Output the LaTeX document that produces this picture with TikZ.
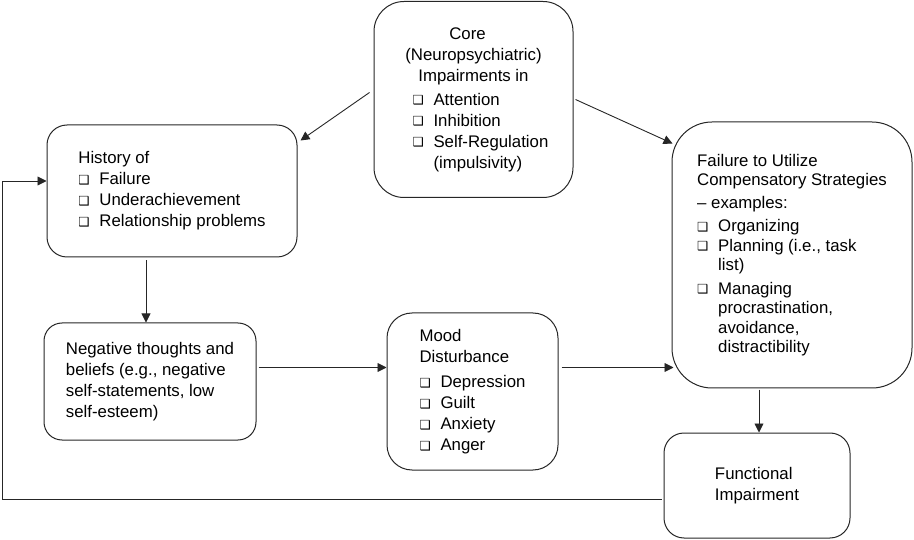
\documentclass[tikz,border=0pt]{standalone}
\usepackage{fontspec}
\setmainfont{Liberation Sans}
\newfontfamily\symfont{DejaVu Sans}
\usetikzlibrary{arrows.meta}
\newcommand\sqbul{\makebox[21pt][l]{\raisebox{0.3pt}{\fontsize{12.5}{12.5}\selectfont\symfont ❑}}}
\newcommand\ind{\hspace*{21pt}}
\begin{document}
\begin{tikzpicture}[x=1pt,y=-1pt,
  font=\fontsize{16.8}{21}\selectfont,
  box/.style={draw=black!85, line width=1pt, inner sep=0pt, align=left},
  arr/.style={draw=black!85, line width=0.9pt, -{Triangle[length=9pt,width=9pt]}}]
\useasboundingbox (0,0) rectangle (914,540);

\node[box, rounded corners=30pt, minimum width=199pt, minimum height=196pt, align=center] (core) at (473.5,99.5)
  {Core\hspace*{12pt}\\(Neuropsychiatric)\hspace*{12pt}\\Impairments in\hspace*{12pt}\\[3pt]%
   \parbox[t]{122pt}{\mbox{\sqbul Attention}\\\mbox{\sqbul Inhibition}\\\mbox{\sqbul Self-Regulation}\\\mbox{\ind(impulsivity)}}};

\node[box, rounded corners=20pt, minimum width=250pt, minimum height=132pt] (hist) at (172,191)
  {History of\\\sqbul Failure\\\sqbul Underachievement\\\sqbul Relationship problems};

\node[box, rounded corners=40pt, minimum width=240pt, minimum height=266pt,
      font=\fontsize{16.8}{19.5}\selectfont] (fail) at (792,255)
  {Failure to Utilize\\Compensatory Strategies\hspace*{9pt}\\[3pt]– examples:\\[4pt]%
   \sqbul Organizing\\\sqbul Planning (i.e., task\\\ind list)\\[4pt]%
   \sqbul Managing\\\ind procrastination,\\\ind avoidance,\\\ind distractibility};

\node[box, rounded corners=18pt, minimum width=212pt, minimum height=117pt] (neg) at (150,381.5)
  {Negative thoughts and\\beliefs (e.g., negative\\self-statements, low\\self-esteem)};

\node[box, rounded corners=25pt, minimum width=171pt, minimum height=157pt] (mood) at (472.5,391.5)
  {Mood\\Disturbance\\[4pt]\sqbul Depression\\\sqbul Guilt\\\sqbul Anxiety\\\sqbul Anger};

\node[box, rounded corners=20pt, minimum width=186pt, minimum height=105pt] (func) at (757,485.5)
  {Functional\\Impairment};

\draw[arr] ([xshift=-4pt,yshift=7pt]core.west) -- ([xshift=3pt,yshift=-16pt]hist.north east);
\draw[arr] ([xshift=2pt]core.east) -- ([xshift=1pt,yshift=-22pt]fail.north west);
\draw[arr] ([xshift=-26pt,yshift=-3pt]hist.south) -- ([xshift=-4pt]neg.north);
\draw[arr] ([xshift=2pt,yshift=14pt]neg.east) -- ([yshift=24pt]mood.west);
\draw[arr] ([xshift=3pt,yshift=24pt]mood.east) -- ([xshift=2pt,yshift=-112.5pt]fail.west);
\draw[arr] ([xshift=-33pt,yshift=-1pt]fail.south) -- ([xshift=2pt]func.north);
\draw[arr] ([xshift=-2pt,yshift=-13.5pt]func.west) -| ([xshift=-44pt,yshift=10pt]hist.west) -- ([yshift=10pt]hist.west);
\end{tikzpicture}
\end{document}
